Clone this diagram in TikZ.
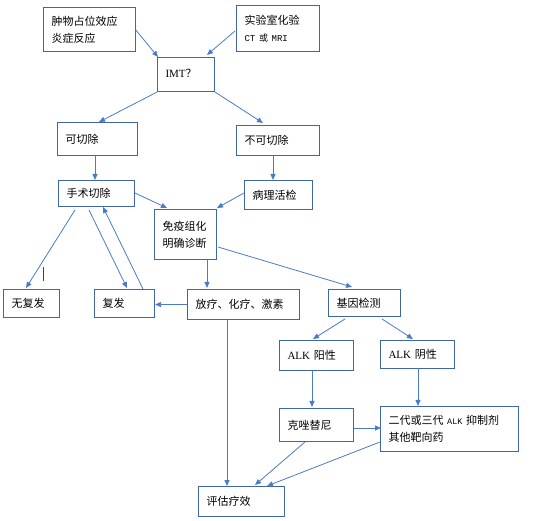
\documentclass[tikz,border=0pt]{standalone}
\usepackage{fontspec}
\setmainfont{Noto Sans CJK SC}
\newfontfamily\latf{Liberation Serif}
\newfontfamily\monof{Liberation Mono}
\usetikzlibrary{arrows.meta,calc}
\definecolor{boxc}{HTML}{3F66A6}
\definecolor{arrc}{HTML}{4A7BCB}
\begin{document}
\begin{tikzpicture}[x=1pt,y=-1pt,
  box/.style={draw=boxc,line width=1.1pt,anchor=north west,inner xsep=8pt,inner ysep=0pt,
    align=left,font=\fontsize{11}{17}\selectfont},
  arr/.style={draw=arrc,line width=0.8pt,-{Triangle[length=6pt,width=5pt]}}]
\useasboundingbox (0,0) rectangle (560,521);
\newcommand\bx[6]{\node[box,minimum width=#3pt,minimum height=#4pt,text width=#5pt] (#6) at (#1,#2)}
\bx{43}{7}{92}{44}{76}{b1} {肿物占位效应\\炎症反应};
\bx{236}{5}{83}{46}{67}{b2} {实验室化验\\{\fontsize{9}{12}\selectfont\monof CT \rmfamily 或 \monof MRI}};
\bx{157}{57}{57}{34}{41}{imt} {\raisebox{2pt}{\latf IMT}\raisebox{2pt}{？}};
\bx{57}{122}{80}{33}{64}{kq} {可切除};
\bx{236}{125}{83}{30}{67}{bkq} {不可切除};
\bx{58}{180}{76}{26}{60}{ss} {手术切除};
\bx{244}{180}{68}{29}{52}{bl} {病理活检};
\bx{154}{209}{62}{50}{46}{my} {免疫组化\\明确诊断};
\bx{3}{289}{56}{28}{40}{wf} {无复发};
\bx{94}{289}{60}{28}{44}{ff} {复发};
\bx{187}{289}{112}{30}{96}{fl} {放疗、化疗、激素};
\bx{328}{289}{72}{27}{56}{jy} {基因检测};
\bx{279}{340}{74}{30}{58}{ap} {{\latf ALK} 阳性};
\bx{380}{340}{74}{28}{58}{an} {{\latf ALK} 阴性};
\bx{279}{408}{74}{33}{58}{kz} {克唑替尼};
\bx{380}{406}{138}{45}{122}{ed} {二代或三代{\fontsize{8.5}{12}\selectfont\monof~ALK~}抑制剂\\其他靶向药};
\bx{198}{486}{86}{30}{70}{pg} {评估疗效};
% connectors
\draw[arr] ($(b1.north west)+(92,22)$) -- ($(imt.north west)+(1,0)$);
\draw[arr] ($(b2.north west)+(-1,26)$) -- ($(imt.north west)+(50,-2)$);
\draw[arr] (imt.south west) -- ($(kq.north west)+(42,0)$);
\draw[arr] (imt.south east) -- ($(bkq.north west)+(27,-2)$);
\draw[arr] ($(kq.north west)+(38,33)$) -- ($(ss.north west)+(37,0)$);
\draw[arr] ($(bkq.north west)+(37,30)$) -- ($(bl.north west)+(29,0)$);
\draw[arr] ($(ss.north west)+(77,13)$) -- ($(my.north west)+(13,-1)$);
\draw[arr] ($(bl.north west)+(0,13)$) -- ($(my.north west)+(63,-1)$);
\draw[arr] ($(ss.north west)+(17,30)$) -- ($(wf.north west)+(23,-1)$);
\draw[arr] ($(ss.north west)+(31,30)$) -- ($(ff.north west)+(33,-1)$);
\draw[arr] ($(ff.north west)+(49,0)$) -- ($(ss.north west)+(45,27)$);
\draw[arr] ($(my.north west)+(53,50)$) -- ($(fl.north west)+(20,-1)$);
\draw[arr] ($(my.north west)+(64,38)$) -- ($(jy.north west)+(24,-2)$);
\draw[arr] (fl.west) -- (fl.west -| ff.east);
\draw[arr] ($(fl.north west)+(40,31)$) -- ($(pg.north west)+(29,0)$);
\draw[arr] ($(jy.north west)+(17,30)$) -- ($(ap.north west)+(34,-1)$);
\draw[arr] ($(jy.north west)+(54,30)$) -- ($(an.north west)+(33,-1)$);
\draw[arr] ($(ap.north west)+(33,31)$) -- ($(kz.north west)+(33,-1)$);
\draw[arr] ($(an.north west)+(38,28)$) -- ($(ed.north west)+(38,0)$);
\draw[arr] ($(kz.north west)+(75,20)$) -- ($(ed.north west)+(1,22)$);
\draw[arr] ($(kz.north west)+(26,34)$) -- ($(pg.north west)+(57,-1)$);
\draw[arr] ($(ed.north west)+(0,36)$) -- ($(pg.north west)+(69,0)$);
% stray mark
\coordinate (m1) at (43,267);
\coordinate (m2) at (43,281);
\draw[line width=0.9pt,black!75] (m1) -- (m2);
\end{tikzpicture}
\end{document}
